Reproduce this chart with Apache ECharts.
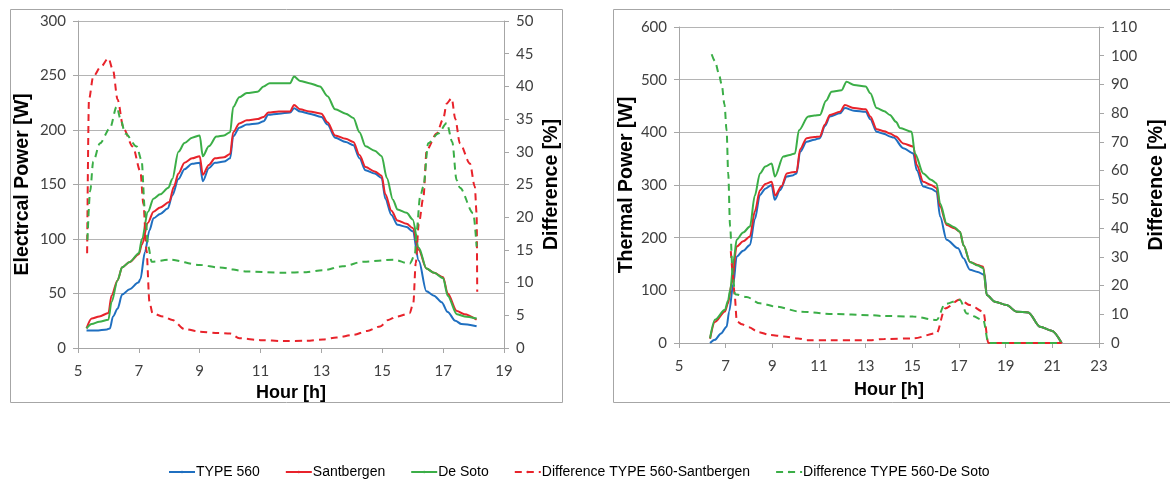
<!DOCTYPE html>
<html>
<head>
<meta charset="utf-8">
<script src="https://cdn.jsdelivr.net/npm/echarts@6/dist/echarts.min.js"></script>
<style>
html,body{margin:0;padding:0;background:#fff;}
#chart{width:1170px;height:481px;}
</style>
</head>
<body>
<div id="chart"></div>
<script>
// ---------- Electrical power chart (left) ----------
const elecHoursType560 = [5.28,5.6,5.95,6.05,6.15,6.3,6.45,6.7,6.98,7.05,7.2,7.35,7.48,7.7,7.95,8.1,8.3,8.5,8.75,9.0,9.1,9.3,9.5,9.8,10.0,10.1,10.3,10.55,10.9,11.1,11.25,11.6,11.97,12.1,12.3,12.6,13.0,13.2,13.45,13.8,14.05,14.25,14.45,14.75,14.98,15.1,15.3,15.5,15.8,16.0,16.2,16.45,16.7,16.95,17.15,17.4,17.6,18.1];
const elecType560 = [16,16,17,18,29,36,49,54,60,63,88,108,119,123,128,140,155,164,169,170,153,165,170,171,174,194,202,205,206,208,214,215,216,220,217,215,212,205,193,189,186,174,163,160,156,137,122,113,111,107,80,52,48,42,33,25,22,20];

const elecHoursSant = [5.28,5.45,5.7,6.0,6.1,6.3,6.45,6.7,7.0,7.1,7.3,7.48,7.7,8.0,8.15,8.3,8.5,8.75,9.0,9.1,9.3,9.5,9.8,10.0,10.1,10.3,10.55,10.9,11.1,11.25,11.6,11.97,12.1,12.3,12.6,13.0,13.2,13.45,13.8,14.05,14.25,14.45,14.75,14.98,15.1,15.3,15.5,15.8,16.0,16.2,16.45,16.7,17.0,17.15,17.45,17.7,18.1];
const elecSant = [18,27,29,32,48,62,74,79,86,95,115,125,129,134,148,160,170,174,176,159,168,174,175,178,198,206,209,210,212,216,217,217,223,219,217,215,207,195,192,189,177,166,162,158,141,126,117,114,110,90,73,69,65,50,34,31,26];

const elecHoursDeSoto = [5.28,5.45,5.7,6.0,6.1,6.3,6.45,6.7,7.0,7.1,7.3,7.48,7.7,7.97,8.1,8.3,8.5,8.75,9.0,9.1,9.3,9.55,9.8,10.0,10.1,10.3,10.55,10.9,11.1,11.3,11.6,11.97,12.1,12.3,12.6,12.95,13.2,13.45,13.8,14.05,14.25,14.45,14.75,14.98,15.15,15.35,15.5,15.8,16.0,16.2,16.45,16.7,17.0,17.15,17.45,17.7,18.1];
const elecDeSoto = [18,22,24,26,42,62,74,79,87,100,125,137,141,147,155,180,188,193,195,176,185,194,195,198,221,230,234,235,240,243,243,243,249,245,243,240,231,219,215,211,198,185,181,176,156,136,127,124,118,92,73,69,64,48,31,29,27];

const elecHoursDiffSant = [5.3,5.36,5.5,5.75,6.0,6.15,6.3,6.5,6.8,7.05,7.15,7.25,7.35,7.45,7.8,8.1,8.5,9.0,9.6,10.0,10.3,11.0,11.75,12.5,13.05,13.5,14.05,14.5,14.93,15.2,15.47,15.9,16.02,16.1,16.2,16.35,16.46,16.79,17.0,17.12,17.28,17.4,17.55,17.88,18.04,18.1,18.12];
const elecDiffSant = [14.5,38,41.5,43,44.3,42.5,38,33.5,30.8,27,22,15,7,5.3,4.8,4.3,2.9,2.5,2.3,2.2,1.5,1.2,1.07,1.1,1.3,1.6,2.0,2.6,3.3,4.3,4.8,5.3,6.9,13,19,23,30.3,32.8,35,37.4,38.2,35,31.3,28.2,24.7,20.6,8.6];

const elecHoursDiffDeSoto = [5.31,5.4,5.5,5.72,6.05,6.27,6.4,6.55,6.93,7.09,7.2,7.31,7.42,8.02,9.0,9.66,10.55,11.75,12.5,13.05,13.7,14.38,15.37,15.9,16.07,16.13,16.24,16.35,16.51,16.84,17.12,17.3,17.44,17.55,17.99,18.1];
const elecDiffDeSoto = [16.5,24,28.5,31.3,33.6,36.9,35,32.8,30.8,28.7,21,15.5,13.2,13.5,12.7,12.3,11.7,11.5,11.6,11.9,12.5,13.2,13.5,12.9,14.2,18,23,24.7,31.3,32.8,34.4,31.5,25.7,24.5,20.6,15.5];

// ---------- Thermal power chart (right) ----------
const thermHoursType560 = [6.33,6.54,6.8,7.04,7.15,7.33,7.47,7.75,8.04,8.25,8.47,8.7,8.97,9.1,9.33,9.62,9.85,10.04,10.19,10.47,10.8,11.04,11.25,11.47,11.9,12.11,12.5,13.0,13.2,13.47,13.8,14.04,14.2,14.61,15.04,15.19,15.47,15.8,16.04,16.19,16.47,16.96,17.19,17.47,17.8,18.1,18.19,18.54,19.04,19.47,19.97,20.47,20.97,21.4];
const thermType560 = [0,6,18,31,60,113,164,175,186,235,281,293,300,272,290,316,318,322,363,382,386,389,412,430,436,446,441,439,425,401,397,392,390,370,360,328,297,293,287,240,196,180,161,139,135,129,91,78.5,72,59.5,58,31,23.4,0];

const thermHoursSant = [6.33,6.54,6.97,7.1,7.26,7.47,7.75,8.04,8.25,8.47,8.7,8.97,9.12,9.4,9.62,9.85,10.04,10.19,10.47,10.8,11.04,11.25,11.47,11.9,12.11,12.5,13.0,13.2,13.47,13.8,14.04,14.3,14.61,15.04,15.19,15.47,15.8,16.04,16.19,16.47,16.8,17.04,17.2,17.47,17.8,18.04,18.19,18.54,19.04,19.47,19.97,20.47,20.97,21.4];
const thermSant = [8,40,60,75,113,183,193,202,250,290,302,306,280,298,322,324,325,368,389,391,392,415,433,439,452,446,444,430,406,402,398,392,379,373,338,306,300,294,259,224,218,211,185,154,148,145,91,78.5,72,59.5,58,31,23.4,0];

const thermHoursDeSoto = [6.33,6.54,6.97,7.1,7.19,7.35,7.47,7.75,8.04,8.25,8.47,8.7,8.97,9.11,9.47,9.75,9.97,10.14,10.54,10.8,11.04,11.3,11.54,11.97,12.18,12.5,13.0,13.2,13.47,13.8,14.04,14.3,14.47,14.97,15.11,15.47,15.8,16.04,16.19,16.47,16.8,17.04,17.2,17.47,17.8,18.04,18.19,18.54,19.04,19.47,19.97,20.47,20.97,21.4];
const thermDeSoto = [9,44,63,80,100,160,196,210,221,280,322,335,341,316,354,357,360,404,430,432,433,460,477,480,496,490,487,474,446,440,433,420,408,401,360,322,310,303,265,227,220,211,185,154,147,142,91,78.5,72,59.5,58,31,23.4,0];

const thermHoursDiffSant = [7.22,7.3,7.38,7.48,7.7,8.0,8.4,8.9,9.5,10.1,10.5,11.5,12.5,13.19,13.8,15.04,16.04,16.4,17.04,17.47,18.04,18.26,19.5,21.4];
const thermDiffSant = [32,25,17,7.5,6.5,5.5,3.8,2.8,2.3,1.6,1.0,1.0,1.0,1.0,1.4,1.6,3.4,12,15.1,13.2,10.9,0,0,0];

const thermHoursDiffDeSoto = [6.4,6.55,6.7,6.83,6.95,7.04,7.11,7.19,7.3,7.4,7.9,8.47,9.19,10.19,11.61,13.19,13.76,15.04,16.04,16.4,17.04,17.33,18.04,18.26,19.5,21.4];
const thermDiffDeSoto = [100.5,98,94,90,83,74,59,40.5,24.3,17,16,13.8,12.6,10.9,10.1,9.7,9.4,9.2,8.0,13.6,15,10.3,8.0,0,0,0];

// ---------- axis ticks ----------
const hourTicksLeft = {min:5, max:19, interval:2};
const hourTicksRight = {min:5, max:23, interval:2};
const elecTicks = {min:0, max:300, interval:50};
const elecDiffTicks = {min:0, max:50, interval:5};
const thermTicks = {min:0, max:600, interval:100};
const thermDiffTicks = {min:0, max:110, interval:10};

const names = ['TYPE 560','Santbergen','De Soto','Difference TYPE 560-Santbergen','Difference TYPE 560-De Soto'];

// ---------- styling ----------
const BLUE = '#1F6FC0', RED = '#E8232B', GREEN = '#3BAE47';
const AXIS = '#a6a6a6', GRID = '#b4b4b4', LABEL = '#404040';
const tickFont = "Lato, 'Liberation Sans', sans-serif";
const nameFont = "'Liberation Sans', Arial, sans-serif";

const zip = (hs, vs) => hs.map((h, i) => [h, vs[i]]);

function xAxis(grid, ticks, gap){
  return {
    type:'value', gridIndex:grid, min:ticks.min, max:ticks.max, interval:ticks.interval,
    name:'Hour [h]', nameLocation:'middle', nameGap:gap,
    nameTextStyle:{fontFamily:nameFont, fontWeight:'bold', fontSize:18, color:'#000'},
    axisLine:{show:true, onZero:false, lineStyle:{color:AXIS, width:1}},
    axisTick:{show:true, length:5, lineStyle:{color:AXIS}},
    axisLabel:{fontFamily:tickFont, fontSize:15, color:LABEL, margin:16},
    splitLine:{show:false}
  };
}
function yAxis(grid, ticks, name, pos, gap, split){
  return {
    type:'value', gridIndex:grid, position:pos, min:ticks.min, max:ticks.max, interval:ticks.interval,
    name:name, nameLocation:'middle', nameGap:gap, nameRotate:90,
    nameTextStyle:{fontFamily:nameFont, fontWeight:'bold', fontSize:19.5, color:'#000'},
    axisLine:{show:true, lineStyle:{color:AXIS, width:1}},
    axisTick:{show:true, length:5, lineStyle:{color:AXIS}},
    axisLabel:{fontFamily:tickFont, fontSize:15, color:LABEL, margin:12},
    splitLine:{show:split, lineStyle:{color:GRID, width:1}}
  };
}
function line(name, x, y, data, color, dashed){
  return {
    name:name, type:'line', xAxisIndex:x, yAxisIndex:y, data:data,
    symbol:'none', smooth:0.3, smoothMonotone:'x',
    lineStyle:{color:color, width:2, type: dashed ? [7,5] : 'solid'},
    itemStyle:{color:color}, z: dashed ? 3 : 2
  };
}

const chart = echarts.init(document.getElementById('chart'), null, {renderer:'canvas'});
chart.setOption({
  backgroundColor:'#ffffff',
  animation:false,
  graphic:[
    {type:'rect', shape:{x:10.5, y:9.5, width:552, height:393}, style:{fill:null, stroke:'#a6a6a6', lineWidth:1}, silent:true},
    {type:'rect', shape:{x:613.5, y:9.5, width:560, height:393}, style:{fill:null, stroke:'#a6a6a6', lineWidth:1}, silent:true}
  ],
  legend:{
    data:names, left:168, top:465, itemWidth:26, itemHeight:3, itemGap:25, padding:0,
    textStyle:{fontFamily:"'Liberation Sans', Arial, sans-serif", fontSize:14, color:'#000', padding:[0,0,0,-4]}
  },
  grid:[
    {left:78, right:666, top:21, bottom:133},
    {left:679, right:71, top:27, bottom:138}
  ],
  xAxis:[ xAxis(0, hourTicksLeft, 32), xAxis(1, hourTicksRight, 38) ],
  yAxis:[
    yAxis(0, elecTicks, 'Electrcal Power [W]', 'left', 45, true),
    yAxis(0, elecDiffTicks, 'Difference [%]', 'right', 38, false),
    yAxis(1, thermTicks, 'Thermal Power [W]', 'left', 42, true),
    yAxis(1, thermDiffTicks, 'Difference [%]', 'right', 48, false)
  ],
  series:[
    line(names[0], 0, 0, zip(elecHoursType560, elecType560), BLUE, false),
    line(names[1], 0, 0, zip(elecHoursSant, elecSant), RED, false),
    line(names[2], 0, 0, zip(elecHoursDeSoto, elecDeSoto), GREEN, false),
    line(names[3], 0, 1, zip(elecHoursDiffSant, elecDiffSant), RED, true),
    line(names[4], 0, 1, zip(elecHoursDiffDeSoto, elecDiffDeSoto), GREEN, true),
    line(names[0], 1, 2, zip(thermHoursType560, thermType560), BLUE, false),
    line(names[1], 1, 2, zip(thermHoursSant, thermSant), RED, false),
    line(names[2], 1, 2, zip(thermHoursDeSoto, thermDeSoto), GREEN, false),
    line(names[3], 1, 3, zip(thermHoursDiffSant, thermDiffSant), RED, true),
    line(names[4], 1, 3, zip(thermHoursDiffDeSoto, thermDiffDeSoto), GREEN, true)
  ]
});
</script>
</body>
</html>
